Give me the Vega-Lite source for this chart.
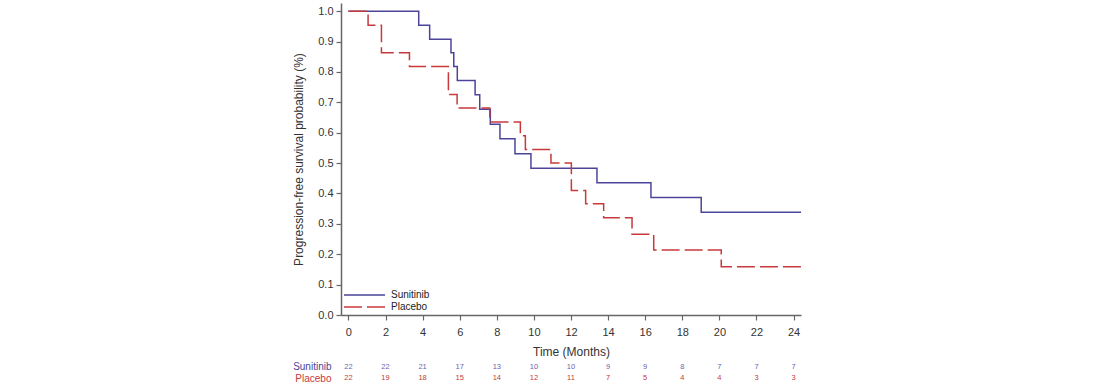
{
  "$schema": "https://vega.github.io/schema/vega-lite/v6.json",
  "autosize": {"type": "pad"},
  "padding": {"left": 292, "top": 3, "right": 5, "bottom": 3},
  "background": "white",
  "config": {
    "font": "Liberation Sans",
    "view": {"stroke": null},
    "axis": {"grid": false, "domainColor": "#666666", "tickColor": "#666666", "labelColor": "#333333", "titleColor": "#333333", "titleFontWeight": "normal", "domainWidth": 1.5, "tickWidth": 1.2}
  },
  "datasets": {
    "km": [
      {"group": "Sunitinib", "time": 0, "survival": 1.0},
      {"group": "Sunitinib", "time": 3.79, "survival": 0.954},
      {"group": "Sunitinib", "time": 4.38, "survival": 0.908},
      {"group": "Sunitinib", "time": 5.53, "survival": 0.863},
      {"group": "Sunitinib", "time": 5.68, "survival": 0.818},
      {"group": "Sunitinib", "time": 5.87, "survival": 0.772},
      {"group": "Sunitinib", "time": 6.83, "survival": 0.725},
      {"group": "Sunitinib", "time": 7.08, "survival": 0.677},
      {"group": "Sunitinib", "time": 7.65, "survival": 0.628},
      {"group": "Sunitinib", "time": 8.17, "survival": 0.58},
      {"group": "Sunitinib", "time": 8.98, "survival": 0.531},
      {"group": "Sunitinib", "time": 9.84, "survival": 0.483},
      {"group": "Sunitinib", "time": 13.4, "survival": 0.435},
      {"group": "Sunitinib", "time": 16.31, "survival": 0.387},
      {"group": "Sunitinib", "time": 19.02, "survival": 0.338},
      {"group": "Sunitinib", "time": 24.4, "survival": 0.338},
      {"group": "Placebo", "time": 0, "survival": 1.0},
      {"group": "Placebo", "time": 1.06, "survival": 0.954},
      {"group": "Placebo", "time": 1.78, "survival": 0.863},
      {"group": "Placebo", "time": 3.29, "survival": 0.818},
      {"group": "Placebo", "time": 5.39, "survival": 0.726},
      {"group": "Placebo", "time": 5.86, "survival": 0.681},
      {"group": "Placebo", "time": 7.62, "survival": 0.635},
      {"group": "Placebo", "time": 9.27, "survival": 0.59},
      {"group": "Placebo", "time": 9.54, "survival": 0.545},
      {"group": "Placebo", "time": 10.92, "survival": 0.5},
      {"group": "Placebo", "time": 12.02, "survival": 0.41},
      {"group": "Placebo", "time": 12.79, "survival": 0.366},
      {"group": "Placebo", "time": 13.76, "survival": 0.32},
      {"group": "Placebo", "time": 15.29, "survival": 0.266},
      {"group": "Placebo", "time": 16.46, "survival": 0.214},
      {"group": "Placebo", "time": 20.1, "survival": 0.159},
      {"group": "Placebo", "time": 24.4, "survival": 0.159}
    ],
    "risk": [
      {"group": "Sunitinib", "time": 0, "n": 22},
      {"group": "Sunitinib", "time": 2, "n": 22},
      {"group": "Sunitinib", "time": 4, "n": 21},
      {"group": "Sunitinib", "time": 6, "n": 17},
      {"group": "Sunitinib", "time": 8, "n": 13},
      {"group": "Sunitinib", "time": 10, "n": 10},
      {"group": "Sunitinib", "time": 12, "n": 10},
      {"group": "Sunitinib", "time": 14, "n": 9},
      {"group": "Sunitinib", "time": 16, "n": 9},
      {"group": "Sunitinib", "time": 18, "n": 8},
      {"group": "Sunitinib", "time": 20, "n": 7},
      {"group": "Sunitinib", "time": 22, "n": 7},
      {"group": "Sunitinib", "time": 24, "n": 7},
      {"group": "Placebo", "time": 0, "n": 22},
      {"group": "Placebo", "time": 2, "n": 19},
      {"group": "Placebo", "time": 4, "n": 18},
      {"group": "Placebo", "time": 6, "n": 15},
      {"group": "Placebo", "time": 8, "n": 14},
      {"group": "Placebo", "time": 10, "n": 12},
      {"group": "Placebo", "time": 12, "n": 11},
      {"group": "Placebo", "time": 14, "n": 7},
      {"group": "Placebo", "time": 16, "n": 5},
      {"group": "Placebo", "time": 18, "n": 4},
      {"group": "Placebo", "time": 20, "n": 4},
      {"group": "Placebo", "time": 22, "n": 3},
      {"group": "Placebo", "time": 24, "n": 3}
    ]
  },
  "spacing": 4,
  "resolve": {"scale": {"x": "independent", "color": "independent", "strokeDash": "independent"}},
  "vconcat": [
    {
      "width": 460,
      "height": 312,
      "data": {"name": "km"},
      "mark": {"type": "line", "interpolate": "step-after", "strokeWidth": 1.5},
      "encoding": {
        "x": {
          "field": "time", "type": "quantitative",
          "scale": {"domain": [-0.4, 24.4], "nice": false, "zero": false},
          "axis": {"values": [0, 2, 4, 6, 8, 10, 12, 14, 16, 18, 20, 22, 24], "format": "d", "title": "Time (Months)", "tickSize": 5, "labelPadding": 6, "labelFontSize": 11, "titleFontSize": 12, "titlePadding": 9, "labelFlush": false}
        },
        "y": {
          "field": "survival", "type": "quantitative",
          "scale": {"domain": [0, 1.027], "nice": false, "zero": true},
          "axis": {"values": [0, 0.1, 0.2, 0.3, 0.4, 0.5, 0.6, 0.7, 0.8, 0.9, 1.0], "format": ".1f", "title": "Progression-free survival probability (%)", "tickSize": 5, "labelPadding": 3, "labelFontSize": 11, "titleFontSize": 12, "titlePadding": 12, "labelFlush": false}
        },
        "color": {
          "field": "group", "type": "nominal",
          "scale": {"domain": ["Sunitinib", "Placebo"], "range": ["#4b4499", "#c8393c"]},
          "legend": {"title": null, "orient": "bottom-left", "offset": 3, "padding": 0, "symbolType": "M-1.2,0H7", "symbolSize": 100, "symbolStrokeWidth": 1.5, "labelFontSize": 10, "labelColor": "#222222", "labelOffset": 35, "rowPadding": 1}
        },
        "strokeDash": {
          "field": "group", "type": "nominal",
          "scale": {"domain": ["Sunitinib", "Placebo"], "range": [[1, 0], [18, 5]]},
          "legend": {"title": null, "orient": "bottom-left", "offset": 3, "padding": 0, "symbolType": "M-1.2,0H7", "symbolSize": 100, "symbolStrokeWidth": 1.5, "labelFontSize": 10, "labelColor": "#222222", "labelOffset": 35, "rowPadding": 1}
        }
      }
    },
    {
      "width": 460,
      "height": 23,
      "data": {"name": "risk"},
      "mark": {"type": "text", "fontSize": 7.5},
      "encoding": {
        "x": {"field": "time", "type": "quantitative", "scale": {"domain": [-0.4, 24.4], "nice": false, "zero": false}, "axis": null},
        "y": {
          "field": "group", "type": "nominal",
          "scale": {"domain": ["Sunitinib", "Placebo"], "paddingInner": 0, "paddingOuter": 0},
          "axis": {"title": null, "domain": false, "ticks": false, "labelPadding": 10, "labelFontSize": 10, "labelColor": {"condition": {"test": "datum.value === 'Sunitinib'", "value": "#4b4499"}, "value": "#c8393c"}}
        },
        "text": {"field": "n", "type": "quantitative"},
        "color": {"field": "group", "type": "nominal", "scale": {"domain": ["Sunitinib", "Placebo"], "range": ["#6a64b0", "#c8393c"]}, "legend": null}
      }
    }
  ]
}
